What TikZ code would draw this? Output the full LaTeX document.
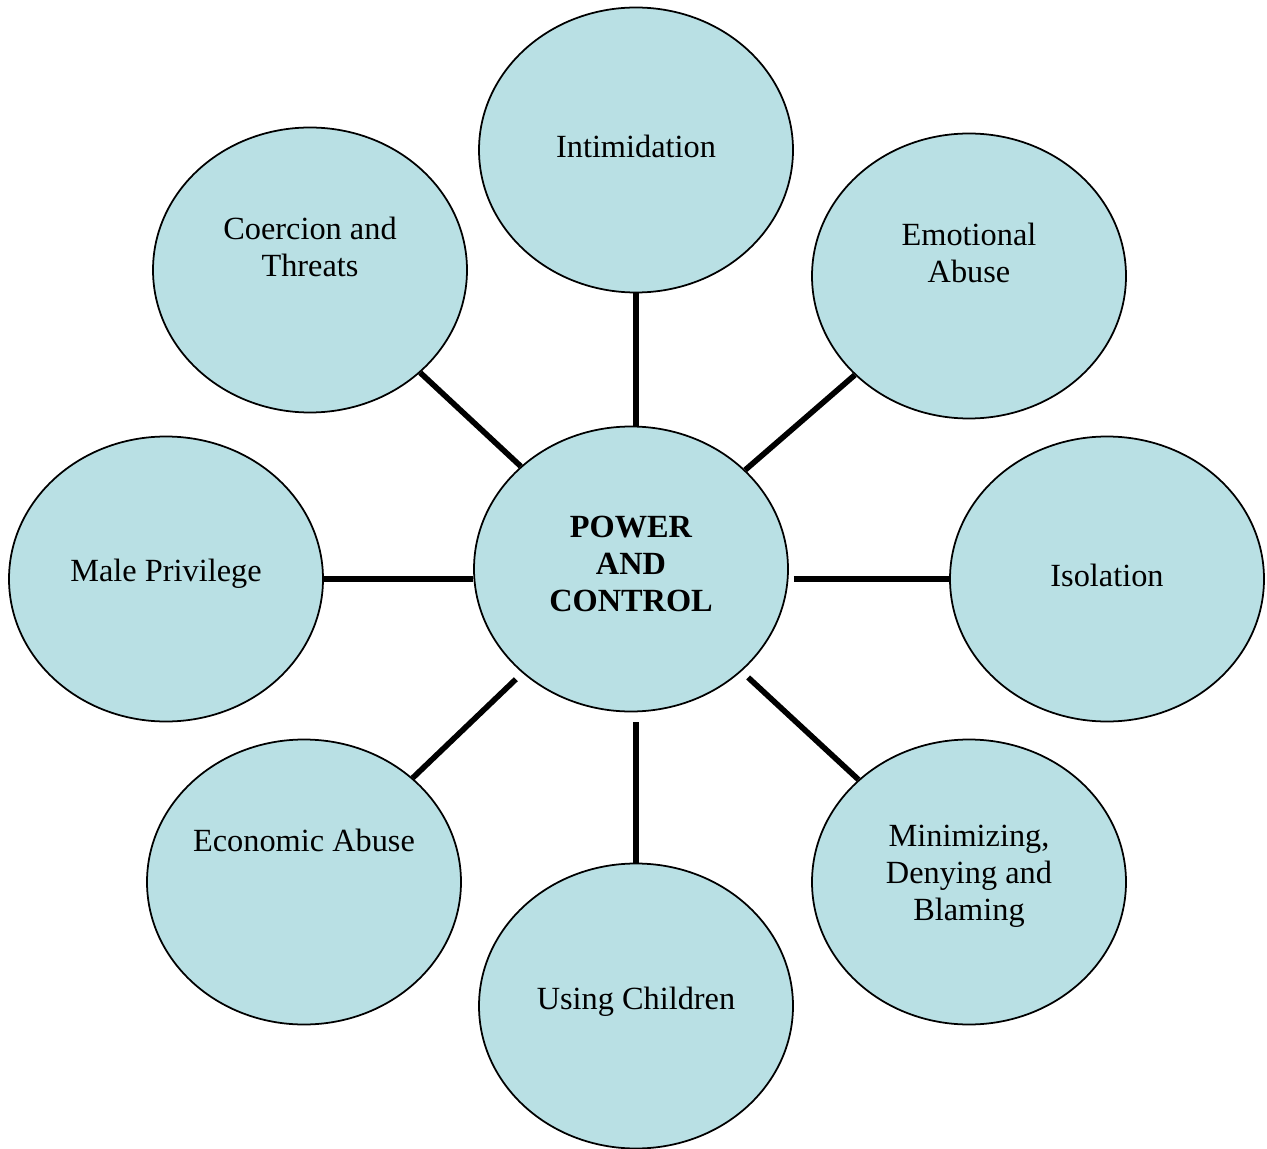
\documentclass[tikz,border=0pt]{standalone}
\usepackage{fontspec}
\setmainfont{Liberation Serif}
\usepackage{tikz}
\usetikzlibrary{shapes.geometric}

\begin{document}
\begin{tikzpicture}
        % 结点样式:椭圆,浅蓝填充,黑色细边框
        [Bubble/.style={ellipse,draw=black,fill=bubbleblue,line width=0.5pt,minimum width=3.14cm,minimum height=2.85cm,inner sep=0pt},
        Txt/.style={align=center,font=\fontsize{9.2}{10.5}\selectfont},
        Spoke/.style={line width=1.6pt}]
        \definecolor{bubbleblue}{HTML}{B9E0E4}

        % 画布大小
        \useasboundingbox (0,0) rectangle (12.67,11.48);

        % 中心结点
        \node[Bubble] (power) at (6.31,5.79){};
        \node[Txt,font=\fontsize{9.2}{10.5}\selectfont\bfseries] (power_t) at (6.31,5.84) {POWER\\AND\\CONTROL};

        % 外圈结点
        \node[Bubble] (intim) at (6.36,9.98){};
        \node[Txt] (intim_t) at (6.36,10.02) {Intimidation};

        \node[Bubble] (coerc) at (3.10,8.78){};
        \node[Txt] (coerc_t) at (3.10,9.01) {Coercion and\\Threats};

        \node[Bubble] (emot) at (9.69,8.72){};
        \node[Txt] (emot_t) at (9.69,8.95) {Emotional\\Abuse};

        \node[Bubble] (male) at (1.66,5.69){};
        \node[Txt] (male_t) at (1.66,5.74) {Male Privilege};

        \node[Bubble] (isol) at (11.07,5.69){};
        \node[Txt] (isol_t) at (11.07,5.73) {Isolation};

        \node[Bubble] (econ) at (3.04,2.66){};
        \node[Txt] (econ_t) at (3.04,3.08) {Economic Abuse};

        \node[Bubble] (minim) at (9.69,2.66){};
        \node[Txt] (minim_t) at (9.69,2.72) {Minimizing,\\Denying and\\Blaming};

        \node[Bubble] (using) at (6.36,1.42){};
        \node[Txt] (using_t) at (6.36,1.46) {Using Children};

        % 中心到外圈的连线
        \foreach \x in {coerc,emot}
            \draw[Spoke](power)--(\x);
        \draw[Spoke](intim.south)--(intim.south|-power.north);
        \draw[Spoke](male.east)--(male.east-|power.west);
        \draw[Spoke,shorten <=0.05cm](isol.west-|power.east)--(isol.west);
        \draw[Spoke,shorten <=0.09cm](power)--(econ);
        \draw[Spoke,shorten <=0.09cm](power)--(minim);
        \draw[Spoke,shorten <=0.1cm](using.north|-power.south)--(using.north);
    \end{tikzpicture}
\end{document}
